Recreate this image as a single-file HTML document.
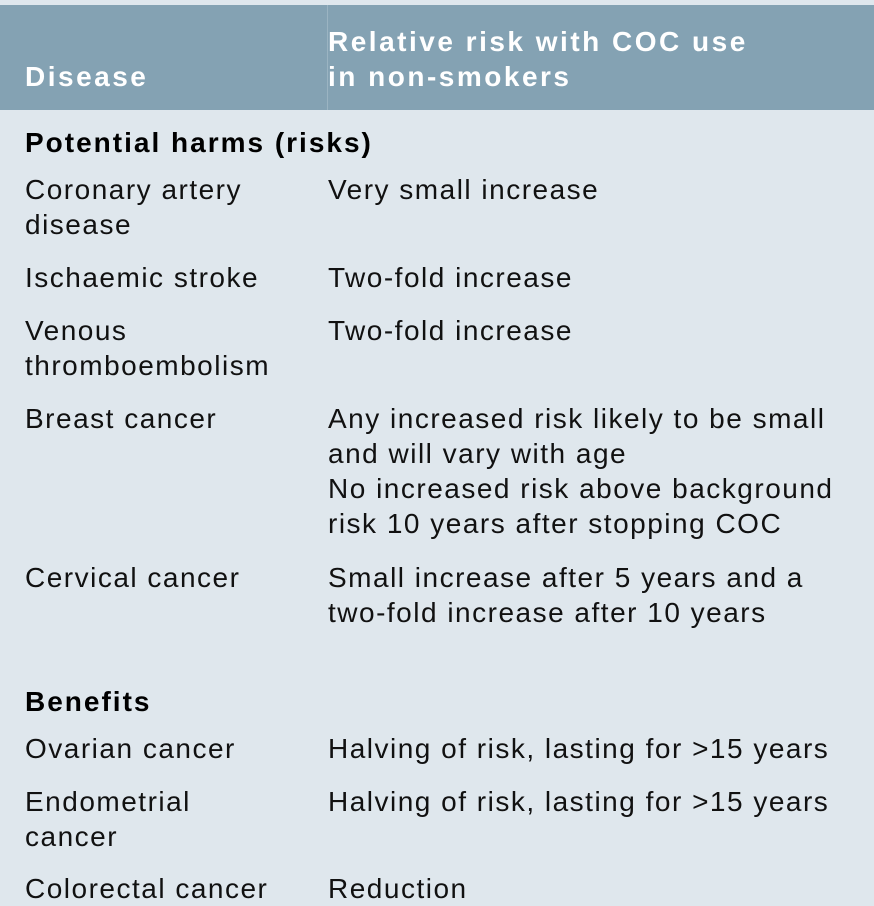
<!DOCTYPE html>
<html><head><meta charset="utf-8"><style>
body{margin:0;width:874px;height:902px;overflow:hidden;background:#dfe7ed;font-family:"Liberation Sans",Arial,sans-serif;font-size:28px;color:#111;letter-spacing:1.5px}
.top{position:absolute;left:0;top:0;width:874px;height:5px;background:#dfe7ed}
.hdr{position:absolute;left:0;top:5px;width:874px;height:105px;background:#84a2b3}
.div{position:absolute;left:327px;top:5px;width:1px;height:105px;background:#9bb4c2}
.t{position:absolute;white-space:nowrap;line-height:35px}
.h{color:#fff;font-weight:bold;letter-spacing:2.5px}
.b{font-weight:bold;color:#000;letter-spacing:2px}
</style></head><body>
<div class="top"></div><div class="hdr"></div><div class="div"></div>
<div class="t h" style="left:25px;top:59px">Disease</div>
<div class="t h" style="left:328px;top:24px">Relative risk with COC use<br>in non-smokers</div>
<div class="t b" style="left:25px;top:125px">Potential harms (risks)</div>
<div class="t" style="left:25px;top:172px">Coronary artery<br>disease</div>
<div class="t" style="left:328px;top:172px">Very small increase</div>
<div class="t" style="left:25px;top:260px">Ischaemic stroke</div>
<div class="t" style="left:328px;top:260px">Two-fold increase</div>
<div class="t" style="left:25px;top:313px">Venous<br>thromboembolism</div>
<div class="t" style="left:328px;top:313px">Two-fold increase</div>
<div class="t" style="left:25px;top:401px">Breast cancer</div>
<div class="t" style="left:328px;top:401px">Any increased risk likely to be small<br>and will vary with age<br>No increased risk above background<br>risk 10 years after stopping COC</div>
<div class="t" style="left:25px;top:560px">Cervical cancer</div>
<div class="t" style="left:328px;top:560px">Small increase after 5 years and a<br>two-fold increase after 10 years</div>
<div class="t b" style="left:25px;top:684px">Benefits</div>
<div class="t" style="left:25px;top:731px">Ovarian cancer</div>
<div class="t" style="left:328px;top:731px">Halving of risk, lasting for &gt;15 years</div>
<div class="t" style="left:25px;top:784px">Endometrial<br>cancer</div>
<div class="t" style="left:328px;top:784px">Halving of risk, lasting for &gt;15 years</div>
<div class="t" style="left:25px;top:871px">Colorectal cancer</div>
<div class="t" style="left:328px;top:871px">Reduction</div>
</body></html>
